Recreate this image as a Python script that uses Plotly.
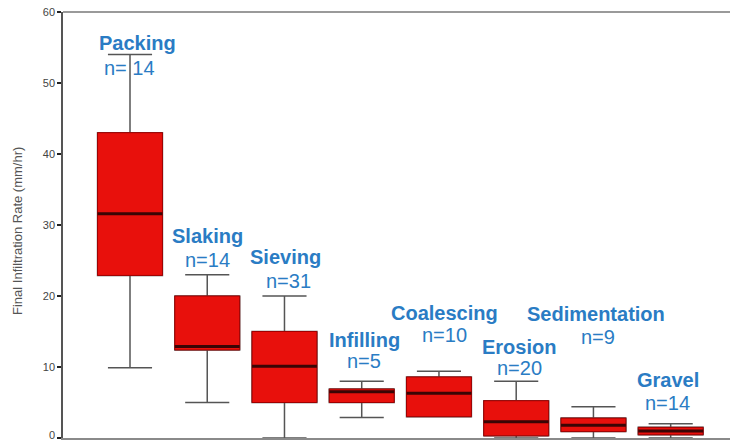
import plotly.graph_objects as go

# Crust / seal types and their summary statistics (final infiltration rate, mm/hr)
categories = ["Packing", "Slaking", "Sieving", "Infilling", "Coalescing",
              "Erosion", "Sedimentation", "Gravel"]
counts = ["n= 14", "n=14", "n=31", "n=5", "n=10", "n=20", "n=9", "n=14"]
upper_fence = [54.0, 23.0, 20.0, 8.0, 9.4, 8.0, 4.4, 2.0]
q3_values = [43.0, 20.0, 15.0, 6.9, 8.6, 5.25, 2.8, 1.5]
median_values = [31.6, 12.9, 10.1, 6.5, 6.3, 2.3, 1.8, 1.0]
q1_values = [22.9, 12.4, 5.0, 5.0, 3.0, 0.3, 0.9, 0.45]
lower_fence = [9.9, 5.0, 0.0, 2.9, 3.0, 0.0, 0.0, 0.0]
y_ticks = [0, 10, 20, 30, 40, 50, 60]
y_tick_text = ["0", "10", "20", "30", "40", "50", "60"]

# Label placement (pixel centres of the name / count lines)
name_px = [(137, 43), (207, 235.5), (285, 257), (364, 339.5), (444, 312.5),
           (519, 347), (596, 313.5), (668, 379.5)]
count_px = [(129, 68.5), (207.5, 260), (288, 281), (364, 361), (444, 335),
            (519, 367.5), (597.5, 336.5), (667.5, 402.5)]

W, H = 730, 442
ML, MR, MT, MB = 63, 0, 12, 4
BOX_W = 0.84
RED = "#e8100c"
BLUE = "#2a7cc4"
FONT = "Liberation Sans, Arial, sans-serif"
TICK_FONT = dict(family=FONT, size=11, color="#444444")

positions = list(range(len(categories)))

fig = go.Figure()
fig.add_trace(go.Box(
    x=positions,
    q1=q1_values, median=median_values, q3=q3_values,
    lowerfence=lower_fence, upperfence=upper_fence,
    width=BOX_W, whiskerwidth=0.68,
    fillcolor=RED,
    line=dict(color="#555555", width=1.5),
    boxpoints=False, hoverinfo="skip", showlegend=False,
))

shapes = []
for i in positions:
    # box body with a dark-red outline
    shapes.append(dict(type="rect", xref="x", yref="y",
                       x0=i - BOX_W / 2, x1=i + BOX_W / 2,
                       y0=q1_values[i], y1=q3_values[i],
                       fillcolor=RED, line=dict(color="#a00000", width=1)))
    # heavy median bar
    shapes.append(dict(type="line", xref="x", yref="y",
                       x0=i - BOX_W / 2, x1=i + BOX_W / 2,
                       y0=median_values[i], y1=median_values[i],
                       line=dict(color="#3a0505", width=3)))
# upper frame line
shapes.append(dict(type="line", xref="paper", yref="paper", x0=0, x1=1, y0=1, y1=1,
                   line=dict(color="#9a9a9a", width=2)))

pw, ph = W - ML - MR, H - MT - MB


def to_paper(px, py):
    return (px - ML) / pw, 1 - (py - MT) / ph


annotations = []
for name, (px, py) in zip(categories, name_px):
    xp, yp = to_paper(px, py)
    annotations.append(dict(text=f"<b>{name}</b>", x=xp, y=yp, xref="paper", yref="paper",
                            xanchor="center", yanchor="middle", showarrow=False,
                            font=dict(family=FONT, size=20, color=BLUE)))
for cnt, (px, py) in zip(counts, count_px):
    xp, yp = to_paper(px, py)
    annotations.append(dict(text=cnt, x=xp, y=yp, xref="paper", yref="paper",
                            xanchor="center", yanchor="middle", showarrow=False,
                            font=dict(family=FONT, size=20, color=BLUE)))
# y-axis title
xp, yp = to_paper(17, 231)
annotations.append(dict(text="Final Infiltration Rate (mm/hr)", x=xp, y=yp,
                        xref="paper", yref="paper", xanchor="center", yanchor="middle",
                        textangle=-90, showarrow=False,
                        font=dict(family=FONT, size=13, color="#555555")))
# the bottom "0" label sits on the lower edge, so it is nudged up to stay inside
xp, _ = to_paper(56, 0)
annotations.append(dict(text=y_tick_text[0], x=xp, y=y_ticks[0], xref="paper", yref="y",
                        xanchor="right", yanchor="bottom", yshift=-4, showarrow=False,
                        borderpad=0, font=TICK_FONT))

x_left = -(130 - ML) / 77.24
x_right = (W - MR - 130) / 77.24

fig.update_layout(
    width=W, height=H,
    margin=dict(l=ML, r=MR, t=MT, b=MB, autoexpand=False),
    paper_bgcolor="white", plot_bgcolor="white",
    shapes=shapes, annotations=annotations,
    xaxis=dict(range=[x_left, x_right], showticklabels=False, ticks="",
               showgrid=False, zeroline=False, showline=True,
               linecolor="#8a8a8a", linewidth=2, automargin=False),
    yaxis=dict(range=[0, 60], tickvals=y_ticks, ticktext=[""] + y_tick_text[1:],
               ticks="outside", ticklen=4,
               tickwidth=2, tickcolor="#222222", showgrid=False, zeroline=False,
               showline=True, linecolor="#555555", linewidth=1.5,
               ticklabeloverflow="allow", automargin=False,
               tickfont=TICK_FONT),
)

fig.write_html("out.html")
